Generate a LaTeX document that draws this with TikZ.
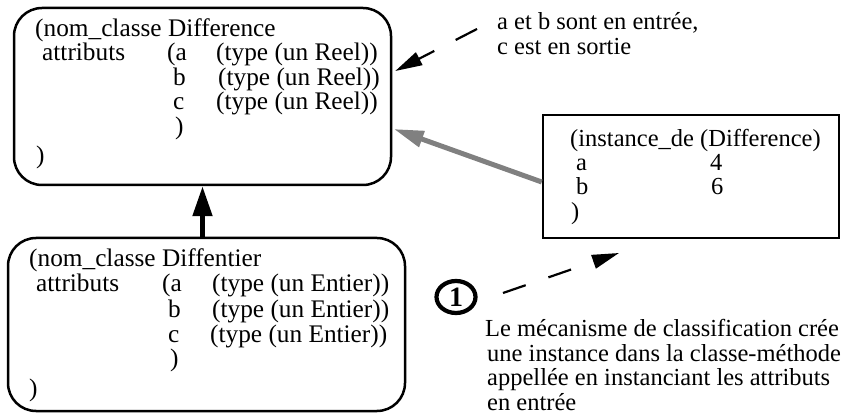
\documentclass[tikz,border=0pt]{standalone}
\usepackage{fontspec}
\setmainfont{Liberation Serif}
\usetikzlibrary{arrows.meta,calc,shapes.geometric}
\begin{document}
\begin{tikzpicture}[x=1pt,y=-1pt,
  txt/.style={anchor=base west,inner sep=0pt,font=\fontsize{24.5}{25}\selectfont},
  btxt/.style={anchor=base west,inner sep=0pt,font=\fontsize{25.3}{25}\selectfont},
  classbox/.style={draw,line width=2.5pt,rounded corners=28pt,inner sep=0pt},
  instbox/.style={draw,line width=2.5pt,inner sep=0pt},
  inherit/.style={line width=5pt,-{Triangle[length=30pt,width=19pt]}},
  instof/.style={draw=gray,line width=5pt,-{Triangle[length=30pt,width=16pt]}},
  note/.style={line width=2.2pt,dash pattern=on 24pt off 24pt,-{Triangle[length=27pt,width=14pt]}}]
\useasboundingbox (0,0) rectangle (848,419);

% boxes
\node[classbox,minimum width=377pt,minimum height=177pt] (d1) at (202.5,96.5) {};
\node[classbox,minimum width=397pt,minimum height=173pt] (d2) at (206.5,324.5) {};
\node[instbox,minimum width=296pt,minimum height=123pt] (inst) at (691,176.5) {};

% box 1 text
\node[btxt] (d1l1) at (35,36.5) {(nom\_classe Difference};
\node[btxt] (d1att) at (42,61) {attributs};
\node[btxt] (d1a) at (167,61) {(a};
\node[btxt] (d1ta) at (216,61) {(type (un Reel))};
\node[btxt] (d1b) at (173,85.5) {b};
\node[btxt] (d1tb) at (218,85.5) {(type (un Reel))};
\node[btxt] (d1c) at (173,110) {c};
\node[btxt] (d1tc) at (216,110) {(type (un Reel))};
\node[btxt] (d1p1) at (175,135) {)};
\node[btxt] (d1p2) at (36,164) {)};

% box 2 text
\node[btxt] (d2l1) at (29,267) {(nom\_classe Diffentier};
\node[btxt] (d2att) at (36,292) {attributs};
\node[btxt] (d2a) at (162,292) {(a};
\node[btxt] (d2ta) at (212,292) {(type (un Entier))};
\node[btxt] (d2b) at (168,317) {b};
\node[btxt] (d2tb) at (212,317) {(type (un Entier))};
\node[btxt] (d2c) at (168,342) {c};
\node[btxt] (d2tc) at (210,342) {(type (un Entier))};
\node[btxt] (d2p1) at (170,366) {)};
\node[btxt] (d2p2) at (29,396) {)};

% instance text
\node[txt] (il1) at (570,146.5) {(instance\_de (Difference)};
\node[txt] (ia) at (576,171) {a};
\node[txt] (iav) at (710,171) {4};
\node[txt] (ib) at (576,195) {b};
\node[txt] (ibv) at (711,195) {6};
\node[txt] (ip) at (571,220) {)};

% notes
\node[txt] (n1) at (497,30) {a et b sont en entrée,};
\node[txt] (n2) at (497,54.5) {c est en sortie};
\node[txt] (m1) at (485,337) {Le mécanisme de classification crée};
\node[txt] (m2) at (487,361) {une instance dans la classe-méthode};
\node[txt] (m3) at (487,385) {appellée en instanciant les attributs};
\node[txt] (m4) at (487,410) {en entrée};

% circled 1
\node[draw,ellipse,line width=4.2pt,minimum width=39pt,minimum height=32pt,inner sep=0pt,
      font=\fontsize{28}{28}\selectfont\bfseries] (one) at (456,297) {\raisebox{-2.5pt}{1}};

% connectors
\draw[inherit] (d1.south |- d2.north) -- (d1.south);
\draw[instof] ($(inst.west)+(0,5.5)$) -- ($(d1.east)+(1.5,32.5)$);
\coordinate (s1) at (477,29);
\draw[note] (s1) -- ($(d1.east)+(3,-25.5)$);
\coordinate (s2) at (503,293);
\coordinate (e2) at (619,253);
\draw[note] (s2) -- (e2);
\end{tikzpicture}
\end{document}
